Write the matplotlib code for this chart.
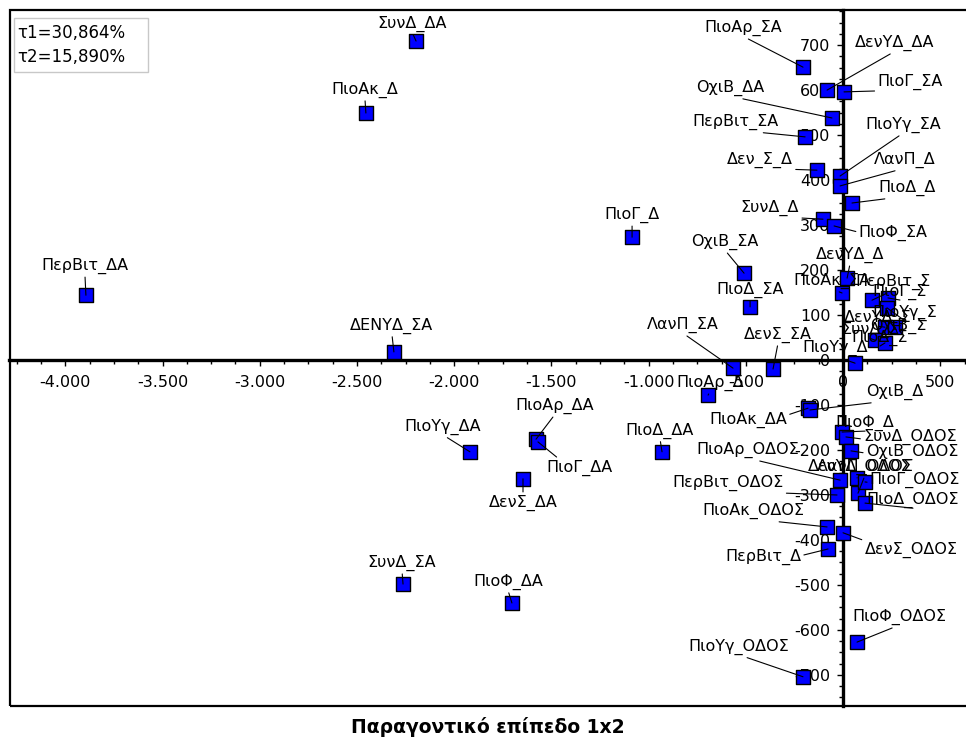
import matplotlib
matplotlib.use('Agg')
import matplotlib.pyplot as plt
from matplotlib.patches import Rectangle
from matplotlib.ticker import MultipleLocator, FuncFormatter

# factor scores on axis 1 / axis 2
labels = [
    'ΣυνΔ_ΔΑ', 'ΠιοΑκ_Δ', 'ΠιοΓ_Δ', 'ΠερΒιτ_ΔΑ', 'ΔΕΝΥΔ_ΣΑ', 'ΠιοΥγ_ΔΑ',
    'ΠιοΑρ_ΔΑ', 'ΠιοΓ_ΔΑ', 'ΔενΣ_ΔΑ', 'ΣυνΔ_ΣΑ', 'ΠιοΦ_ΔΑ', 'ΠιοΔ_ΔΑ',
    'ΠιοΑρ_ΣΑ', 'ΔενΥΔ_ΔΑ', 'ΠιοΓ_ΣΑ', 'ΟχιΒ_ΔΑ', 'ΠερΒιτ_ΣΑ', 'ΠιοΥγ_ΣΑ',
    'Δεν_Σ_Δ', 'ΛανΠ_Δ', 'ΠιοΔ_Δ', 'ΣυνΔ_Δ', 'ΠιοΦ_ΣΑ', 'ΟχιΒ_ΣΑ',
    'ΠιοΔ_ΣΑ', 'ΛανΠ_ΣΑ', 'ΔενΣ_ΣΑ', 'ΠιοΑρ_Δ', 'ΔενΥΔ_Δ', 'ΠιοΑκ_ΣΑ',
    'ΠερΒιτ_Σ', 'ΠιοΓ_Σ', 'ΠιοΥγ_Σ', 'ΔενΥΔ_Σ', 'ΟχιΒ_Σ', 'ΣυνΔ_Σ',
    'ΠιοΔ_Σ', 'ΠιοΥγ_Δ', 'ΠιοΑκ_ΔΑ', 'ΟχιΒ_Δ', 'ΠιοΦ_Δ', 'ΣυνΔ_ΟΔΟΣ',
    'ΟχιΒ_ΟΔΟΣ', 'ΠιοΑρ_ΟΔΟΣ', 'ΔενΥΔ_ΟΔΟΣ', 'ΛανΠ_ΟΔΟΣ', 'ΠιοΓ_ΟΔΟΣ',
    'ΠερΒιτ_ΟΔΟΣ', 'ΠιοΔ_ΟΔΟΣ', 'ΠιοΑκ_ΟΔΟΣ', 'ΔενΣ_ΟΔΟΣ', 'ΠερΒιτ_Δ',
    'ΠιοΦ_ΟΔΟΣ', 'ΠιοΥγ_ΟΔΟΣ',
]
axis1 = [
    -2196, -2454, -1085, -3894, -2310, -1919,
    -1579, -1569, -1646, -2263, -1703, -931,
    -206, -82, 5, -57, -195, -15,
    -134, -15, 46, -103, -46, -509,
    -478, -566, -360, -694, 21, -5,
    149, 231, 226, 216, 267, 165,
    216, 62, -180, -170, -5, 15,
    41, -15, 72, 77, 113,
    -31, 113, -82, 0, -77,
    72, -206,
]
axis2 = [
    709, 549, 273, 144, 18, -204,
    -176, -182, -264, -498, -540, -204,
    651, 600, 596, 538, 496, 409,
    422, 387, 349, 313, 298, 193,
    118, -18, -20, -78, 182, 149,
    133, 138, 116, 73, 73, 44,
    38, -7, -107, -111, -160, -171,
    -202, -267, -262, -296, -271,
    -300, -318, -371, -384, -420,
    -627, -704,
]
inertia = ['τ1=30,864%', 'τ2=15,890%']
title = 'Παραγοντικό επίπεδο 1x2'

# label placement, offset in pixels from the marker (dx right, dy up)
offsets = [
    (-4, 17), (-1, 23), (0, 22), (-1, 29), (-2, 26), (-27, 25),
    (19, 33), (42, -26), (0, -24), (-1, 21), (-4, 21), (-2, 21),
    (-60, 39), (68, 47), (66, 10), (-102, 30), (-70, 15), (63, 51),
    (-57, 10), (65, 26), (55, 15), (-53, 11), (59, -7), (-19, 31),
    (0, 17), (-50, 43), (5, 34), (2, 12), (3, 23), (-10, 12),
    (21, 18), (12, 6), (18, -5), (-7, 9), (3, 1), (-5, 10),
    (-5, 5), (-20, 15), (-60, -12), (85, 18), (23, 9), (64, 0),
    (61, -1), (-92, 30), (3, 11), (7, 26), (50, 2),
    (-109, 12), (48, 3), (-74, 16), (68, -17), (-65, -8),
    (42, 25), (-64, 30),
]

plt.rcParams['font.family'] = ['DejaVu Sans']

W, H = 966, 742
fig = plt.figure(figsize=(W / 100, H / 100), dpi=100)
ax = fig.add_axes([9.5 / W, 36 / H, 960.5 / W, 696 / H])
ax.set_xlim(-4287, 653)
ax.set_ylim(-769, 778)

# axes through the origin
for side in ['top', 'right']:
    ax.spines[side].set_visible(False)
for side in ['left', 'bottom']:
    ax.spines[side].set_position(('data', 0))
    ax.spines[side].set_linewidth(2.4)
    ax.spines[side].set_zorder(2.5)

ax.xaxis.set_major_locator(MultipleLocator(500))
ax.xaxis.set_minor_locator(MultipleLocator(125))
ax.yaxis.set_major_locator(MultipleLocator(100))
ax.yaxis.set_minor_locator(MultipleLocator(25))
ax.xaxis.set_major_formatter(FuncFormatter(lambda v, p: f'{int(round(v)):,}'.replace(',', '.')))
ax.yaxis.set_major_formatter(FuncFormatter(lambda v, p: f'{int(round(v))}'))
ax.tick_params(which='major', direction='out', length=4, width=1, labelsize=11.5, pad=5)
ax.tick_params(axis='x', which='major', pad=7)
ax.tick_params(which='minor', direction='out', length=3, width=1)

# outer frame
ax.add_patch(Rectangle((0, 0), 1, 1, transform=ax.transAxes, fill=False,
                       lw=1.6, ec='black', clip_on=False, zorder=5))

ax.scatter(axis1, axis2, marker='s', s=100, c='#0000ff', edgecolors='black',
           linewidths=1, zorder=3)

for name, x, y, (dx, dy) in zip(labels, axis1, axis2, offsets):
    ax.annotate(name, xy=(x, y), xytext=(dx, dy), textcoords='offset pixels',
                ha='center', va='center', fontsize=11.5, zorder=4,
                arrowprops=dict(arrowstyle='-', color='black', lw=0.8,
                                relpos=(0.5, 0), shrinkA=0, shrinkB=0))

# inertia box in the top-left corner
fig.patches.append(Rectangle((14 / W, 1 - 72 / H), 134 / W, 54 / H,
                             transform=fig.transFigure, fc='white',
                             ec='#c8c8c8', lw=1, zorder=6))
fig.text(17 / W, 1 - 45 / H, '\n'.join(inertia), ha='left', va='center',
         fontsize=12, linespacing=1.5, zorder=7)

fig.text(488 / W, 1 - 727 / H, title, ha='center', va='center',
         fontsize=13.5, fontweight='bold')

fig.savefig('out.png', dpi=100)
